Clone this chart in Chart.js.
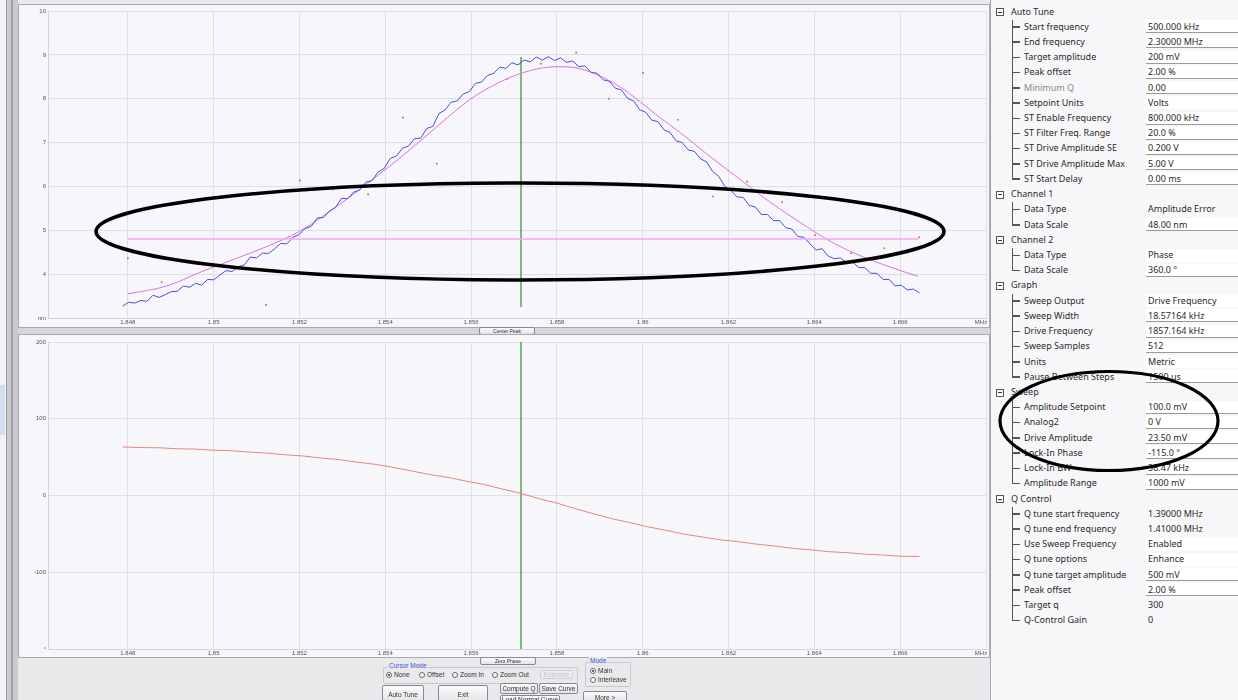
<!DOCTYPE html>
<html>
<head>
<meta charset="utf-8">
<script src="https://cdn.jsdelivr.net/npm/chart.js@4.4.1/dist/chart.umd.min.js"></script>
<style>
html, body { margin: 0; padding: 0; }
body { width: 1238px; height: 700px; position: relative; overflow: hidden; background: #e9e9ec; font-family: "Liberation Sans", Arial, sans-serif; }
.abs { position: absolute; }
.panel { background: #f7f7fb; }
.frame { position: absolute; border: 1px solid #a9a9b0; box-sizing: border-box; pointer-events: none; }
.btn { position: absolute; box-sizing: border-box; border: 1px solid #7f8a9a; border-radius: 2px; background: linear-gradient(#fbfbfb, #e4e4e8); font-size: 6.5px; color: #333; text-align: center; white-space: nowrap; overflow: hidden; }
.grp { position: absolute; box-sizing: border-box; border: 1px solid #c9c9cf; border-radius: 2px; }
.grpLabel { position: absolute; font-size: 6.5px; color: #3355cc; background: #e9e9ec; padding: 0 1px; }
.radio { position: absolute; font-size: 6.5px; color: #333; white-space: nowrap; }
.radio i { display: inline-block; width: 6px; height: 6px; border: 1px solid #666; border-radius: 50%; box-sizing: border-box; vertical-align: -1px; margin-right: 2px; background: #fff; position: relative; }
.radio i.on::after { content: ""; position: absolute; left: 1px; top: 1px; width: 2px; height: 2px; border-radius: 50%; background: #333; }
#props { left: 990px; top: 0; width: 248px; height: 700px; background: #f7f7fa; border-left: 1px solid #a6a6ae; box-sizing: border-box; font-family: "Noto Sans", "Open Sans", sans-serif; font-size: 9px; color: #2a2a2a; }
.pt { position: absolute; white-space: nowrap; line-height: 12px; }
</style>
</head>
<body>

<!-- left window strip -->
<div class="abs" style="left:0;top:0;width:6px;height:700px;background:#f3f3f5"></div>
<div class="abs" style="left:0;top:385px;width:5px;height:50px;background:#d3ddf0"></div>
<div class="abs" style="left:6px;top:0;width:12px;height:700px;background:#cacacd;border-left:1px solid #9a9a9e;box-sizing:border-box"></div>
<div class="abs" style="left:11px;top:0;width:2px;height:700px;background:#a2a2a6"></div>

<!-- chart panels -->
<div class="abs panel" style="left:18px;top:5px;width:972px;height:322px"><canvas id="ampChart"></canvas></div>
<div class="frame" style="left:18px;top:4px;width:972px;height:324px"></div>
<div class="abs" style="left:18px;top:328px;width:972px;height:7px;background:#d7d7db"></div>
<div class="btn" style="left:479px;top:327px;width:56px;height:8px;font-size:5px;line-height:6px">Center Peak</div>

<div class="abs panel" style="left:18px;top:335px;width:972px;height:322px"><canvas id="phaseChart"></canvas></div>
<div class="frame" style="left:18px;top:334px;width:972px;height:324px"></div>
<div class="btn" style="left:480px;top:657px;width:56px;height:8px;font-size:5px;line-height:6px">Zero Phase</div>

<!-- controls under the charts -->
<div class="grp" style="left:383px;top:667px;width:195px;height:17px"></div>
<div class="grpLabel" style="left:388px;top:662px">Cursor Mode</div>
<div class="radio" style="left:386px;top:671px"><i class="on"></i>None</div>
<div class="radio" style="left:419px;top:671px"><i></i>Offset</div>
<div class="radio" style="left:452px;top:671px"><i></i>Zoom In</div>
<div class="radio" style="left:492px;top:671px"><i></i>Zoom Out</div>
<div class="btn" style="left:540px;top:670px;width:33px;height:9px;line-height:7px;color:#c8c8c8;border-color:#d0d0d4;background:#ececef">Estimate</div>
<div class="btn" style="left:382px;top:685px;width:42px;height:18px;line-height:18px">Auto Tune</div>
<div class="btn" style="left:438px;top:685px;width:50px;height:18px;line-height:18px">Exit</div>
<div class="btn" style="left:500px;top:683px;width:38px;height:11px;line-height:9px">Compute Q</div>
<div class="btn" style="left:539px;top:683px;width:39px;height:11px;line-height:9px">Save Curve</div>
<div class="btn" style="left:500px;top:695px;width:60px;height:10px;line-height:8px">Load Normal Curve</div>
<div class="grp" style="left:585px;top:662px;width:46px;height:25px"></div>
<div class="grpLabel" style="left:589px;top:657px">Mode</div>
<div class="radio" style="left:590px;top:667px"><i class="on"></i>Main</div>
<div class="radio" style="left:590px;top:676px"><i></i>Interleave</div>
<div class="btn" style="left:583px;top:691px;width:44px;height:12px;line-height:11px">More &gt;</div>

<!-- property grid -->
<div id="props" class="abs"></div>

<!-- hand drawn marks -->
<svg class="abs" style="left:0;top:0;z-index:10;pointer-events:none" width="1238" height="700">
  <ellipse cx="520" cy="231.5" rx="424" ry="48.5" fill="none" stroke="#000" stroke-width="3.6"/>
  <ellipse cx="1109" cy="421" rx="109" ry="49.5" fill="none" stroke="#000" stroke-width="3.2"/>
</svg>

<script>
// Sweep settings (from the Graph section)
const driveFreq = 1.857164;      // MHz
const sweepWidth = 0.01857164;   // MHz
const sweepStart = driveFreq - sweepWidth / 2;

// Amplitude error (nm), evenly spread over the sweep
const ampValues = [3.27,3.36,3.34,3.40,3.38,3.52,3.47,3.53,3.60,3.61,
  3.73,3.70,3.79,3.75,3.88,3.87,3.98,4.08,4.06,4.17,
  4.21,4.39,4.37,4.48,4.47,4.58,4.70,4.69,4.84,4.90,
  5.04,5.09,5.28,5.29,5.44,5.52,5.73,5.72,5.87,5.92,
  6.10,6.13,6.33,6.41,6.64,6.69,6.87,6.92,7.09,7.10,
  7.32,7.37,7.66,7.74,7.92,7.95,8.11,8.16,8.35,8.38,
  8.53,8.58,8.72,8.69,8.82,8.77,8.88,8.84,8.95,8.88,
  8.96,8.87,8.93,8.83,8.86,8.73,8.75,8.60,8.58,8.43,
  8.40,8.24,8.20,8.01,7.95,7.75,7.69,7.51,7.48,7.29,
  7.23,7.04,7.00,6.83,6.80,6.63,6.56,6.34,6.23,6.00,
  5.91,5.76,5.75,5.57,5.53,5.36,5.36,5.22,5.22,5.06,
  5.03,4.86,4.84,4.69,4.55,4.58,4.41,4.35,4.37,4.26,
  4.28,4.15,4.15,4.02,4.02,3.88,3.88,3.73,3.75,3.64,
  3.66,3.57];

// Fitted curve
const fitFreq = [1.84800,1.84891,1.84968,1.85045,1.85124,1.85201,1.85271,1.85364,1.85458,1.85527,
  1.85597,1.85667,1.85737,1.85800,1.85847,1.85893,1.85947,1.85994,1.86040,1.86087,
  1.86157,1.86227,1.86297,1.86367,1.86437,1.86507,1.86577,1.86642];
const fitAmp = [3.55,3.73,4.04,4.33,4.63,4.98,5.43,6.11,6.84,7.42,
  7.98,8.38,8.64,8.73,8.70,8.55,8.27,7.93,7.57,7.23,
  6.68,6.16,5.64,5.18,4.75,4.42,4.16,3.95];

// Level line
const levelFreq = [1.84800, 1.86642];
const levelAmp = [4.80, 4.80];

// Red sample dots
const dotFreq = [1.84800,1.84879,1.85122,1.85201,1.85278,1.85360,1.85441,1.85520,1.85684,1.85763,
  1.85845,1.85921,1.86001,1.86082,1.86164,1.86243,1.86325,1.86402,1.86486,1.86563,1.86644];
const dotAmp = [4.36,3.82,3.30,6.14,5.93,5.82,7.57,6.52,8.45,8.80,
  9.05,8.00,8.59,7.52,5.77,6.11,5.64,4.89,4.48,4.59,4.84];

// Phase (deg), evenly spread over the sweep
const phaseValues = [63.2,62.4,62.2,60.9,60.5,59.0,58.3,56.6,55.2,53.0,
  51.4,48.8,46.6,43.3,40.5,36.4,31.7,27.2,23.4,18.6,
  14.2,8.2,2.7,-4.2,-10.0,-17.2,-23.8,-30.2,-35.2,-40.8,
  -45.3,-50.4,-54.0,-57.7,-60.2,-63.4,-65.8,-68.8,-70.8,-73.2,
  -74.5,-76.4,-77.6,-79.2,-79.4];

// Cursor line
const cursorAmp = [8.95, 3.25];
const cursorPhase = [200, -200];

// Axes
const xMin = 1.84614, xMax = 1.868;
const xTickVals = [1.848,1.85,1.852,1.854,1.856,1.858,1.86,1.862,1.864,1.866,1.868];
const ampTickVals = [3,4,5,6,7,8,9,10];
const phaseTickVals = [-200,-100,0,100,200];

function sweepPoints(vals) {
    const step = sweepWidth / (vals.length - 1);
    return vals.map((v, i) => ({ x: sweepStart + i * step, y: v }));
}
function pairPoints(xs, ys) {
    return xs.map((x, i) => ({ x: x, y: ys[i] }));
}

const tickFont = { family: 'Liberation Sans', size: 6 };

function buildOptions(yMin, yMax, yTicks, yUnit, yUnitVal, xAxisH, padTop) {
    return {
        responsive: true,
        maintainAspectRatio: false,
        animation: false,
        layout: { padding: { left: 0, right: 4, top: padTop, bottom: 0 } },
        plugins: { legend: { display: false }, tooltip: { enabled: false } },
        scales: {
            x: {
                type: 'linear', min: xMin, max: xMax,
                afterBuildTicks: s => { s.ticks = xTickVals.map(v => ({ value: v })); },
                afterFit: s => { s.height = xAxisH; s.paddingLeft = 0; s.paddingRight = 0; },
                ticks: {
                    font: tickFont, color: '#555', padding: 1, maxRotation: 0, autoSkip: false,
                    // unit label sits under the last tick, nudged left with trailing spaces
                    callback: v => Math.abs(v - 1.868) < 1e-7 ? 'MHz\u00a0\u00a0\u00a0\u00a0\u00a0\u00a0' : String(Number(v.toFixed(3)))
                },
                grid: { color: '#dfdfe8', lineWidth: 1, drawTicks: false },
                border: { color: '#d5d5de' }
            },
            y: {
                type: 'linear', min: yMin, max: yMax,
                afterBuildTicks: s => { s.ticks = yTicks.map(v => ({ value: v })); },
                afterFit: s => { s.width = 30; s.paddingTop = 0; s.paddingBottom = 0; },
                ticks: {
                    font: tickFont, color: '#555', padding: 2, autoSkip: false,
                    callback: v => v === yUnitVal ? yUnit : String(v)
                },
                grid: { color: '#dfdfe8', lineWidth: 1, drawTicks: false },
                border: { color: '#d5d5de' }
            }
        }
    };
}

new Chart(document.getElementById('ampChart'), {
    type: 'scatter',
    data: {
        datasets: [
            { data: pairPoints(levelFreq, levelAmp), showLine: true, borderColor: '#f2a6f2', borderWidth: 1.5, pointRadius: 0 },
            { data: sweepPoints(ampValues), showLine: true, borderColor: '#4b4bdc', borderWidth: 1, pointRadius: 0 },
            { data: pairPoints(fitFreq, fitAmp), showLine: true, borderColor: '#e06ee0', borderWidth: 1, pointRadius: 0, cubicInterpolationMode: 'monotone' },
            { data: pairPoints(dotFreq, dotAmp), showLine: false, pointStyle: 'rect', pointRadius: 1.2, backgroundColor: '#e4603e', borderWidth: 0 },
            { data: pairPoints([driveFreq, driveFreq], cursorAmp), showLine: true, borderColor: '#4fa84f', borderWidth: 1.5, pointRadius: 0 }
        ]
    },
    options: buildOptions(3, 10, ampTickVals, 'nm', 3, 9, 6)
});

new Chart(document.getElementById('phaseChart'), {
    type: 'scatter',
    data: {
        datasets: [
            { data: sweepPoints(phaseValues), showLine: true, borderColor: '#ee8080', borderWidth: 1, pointRadius: 0 },
            { data: pairPoints([driveFreq, driveFreq], cursorPhase), showLine: true, borderColor: '#4fa84f', borderWidth: 1.5, pointRadius: 0 }
        ]
    },
    options: buildOptions(-200, 200, phaseTickVals, '°', -200, 8, 7)
});

// Property grid
const propRows = [
    ['cat', 'Auto Tune'],
    ['item', 'Start frequency', '500.000 kHz', 'u'],
    ['item', 'End frequency', '2.30000 MHz', 'u'],
    ['item', 'Target amplitude', '200 mV', 'u'],
    ['item', 'Peak offset', '2.00 %', 'u'],
    ['item', 'Minimum Q', '0.00', 'd'],
    ['item', 'Setpoint Units', 'Volts', 'b'],
    ['item', 'ST Enable Frequency', '800.000 kHz', 'u'],
    ['item', 'ST Filter Freq. Range', '20.0 %', 'u'],
    ['item', 'ST Drive Amplitude SE', '0.200 V', 'u'],
    ['item', 'ST Drive Amplitude Max', '5.00 V', 'u'],
    ['last', 'ST Start Delay', '0.00 ms', 'u'],
    ['cat', 'Channel 1'],
    ['item', 'Data Type', 'Amplitude Error', ''],
    ['last', 'Data Scale', '48.00 nm', 'u'],
    ['cat', 'Channel 2'],
    ['item', 'Data Type', 'Phase', 'b'],
    ['last', 'Data Scale', '360.0 °', 'u'],
    ['cat', 'Graph'],
    ['item', 'Sweep Output', 'Drive Frequency', 'b'],
    ['item', 'Sweep Width', '18.57164 kHz', 'u'],
    ['item', 'Drive Frequency', '1857.164 kHz', 'u'],
    ['item', 'Sweep Samples', '512', 'u'],
    ['item', 'Units', 'Metric', 'b'],
    ['last', 'Pause Between Steps', '1500 us', 'u'],
    ['cat', 'Sweep'],
    ['item', 'Amplitude Setpoint', '100.0 mV', 'u'],
    ['item', 'Analog2', '0 V', 'u'],
    ['item', 'Drive Amplitude', '23.50 mV', 'u'],
    ['item', 'Lock-In Phase', '-115.0 °', 'u'],
    ['item', 'Lock-In BW', '38.47 kHz', 'u'],
    ['last', 'Amplitude Range', '1000 mV', 'u'],
    ['cat', 'Q Control'],
    ['item', 'Q tune start frequency', '1.39000 MHz', ''],
    ['item', 'Q tune end frequency', '1.41000 MHz', ''],
    ['item', 'Use Sweep Frequency', 'Enabled', 'b'],
    ['item', 'Q tune options', 'Enhance', 'b'],
    ['item', 'Q tune target amplitude', '500 mV', 'u'],
    ['item', 'Peak offset', '2.00 %', 'u'],
    ['item', 'Target q', '300', ''],
    ['last', 'Q-Control Gain', '0', '']
];

const props = document.getElementById('props');
const rowH = 15.22, firstY = 12, panelX = 990;
propRows.forEach((r, k) => {
    const yc = firstY + k * rowH;
    const add = (html) => props.insertAdjacentHTML('beforeend', html);
    if (r[0] === 'cat') {
        add(`<div class="abs" style="left:${995 - panelX}px;top:${yc - 4}px;width:8px;height:8px;border:1px solid #555;box-sizing:border-box;background:#fff"></div>`);
        add(`<div class="abs" style="left:${997 - panelX}px;top:${yc - 0.5}px;width:4px;height:1px;background:#333"></div>`);
        add(`<div class="pt" style="left:${1010 - panelX}px;top:${yc - 6.5}px">${r[1]}</div>`);
        return;
    }
    const vBottom = r[0] === 'last' ? yc : yc + rowH / 2;
    add(`<div class="abs" style="left:${1011 - panelX}px;top:${yc - rowH / 2}px;width:1px;height:${vBottom - yc + rowH / 2}px;background:#555"></div>`);
    add(`<div class="abs" style="left:${1011 - panelX}px;top:${yc - 1}px;width:8px;height:1.5px;background:#555"></div>`);
    const lblColor = r[3] === 'd' ? '#8a8a8a' : '#2a2a2a';
    add(`<div class="pt" style="left:${1023 - panelX}px;top:${yc - 6.5}px;color:${lblColor}">${r[1]}</div>`);
    if (r[3] === 'u' || r[3] === 'd') {
        add(`<div class="abs" style="left:${1145 - panelX}px;top:${yc - 7}px;width:93px;height:13px;background:#fff;border-bottom:1px solid #9a9a9a;box-sizing:border-box"></div>`);
    } else if (r[3] === 'b') {
        add(`<div class="abs" style="left:${1145 - panelX}px;top:${yc - 7}px;width:93px;height:13px;background:#fff"></div>`);
    }
    add(`<div class="pt" style="left:${1147 - panelX}px;top:${yc - 6.5}px">${r[2]}</div>`);
});
</script>
</body>
</html>
